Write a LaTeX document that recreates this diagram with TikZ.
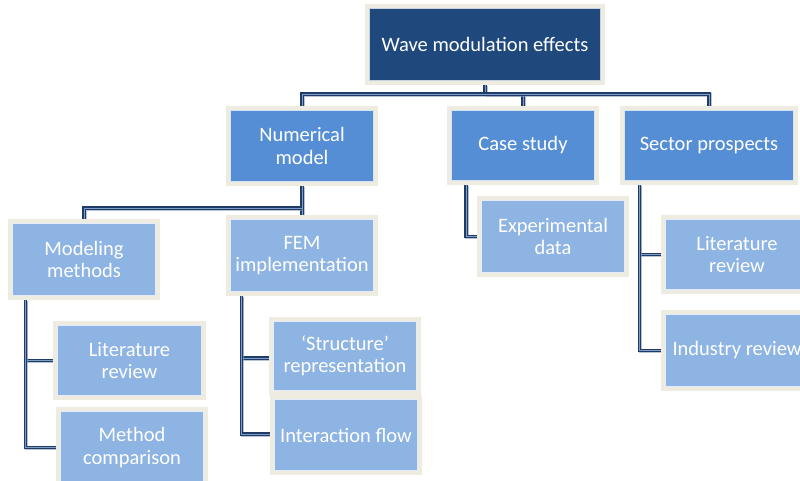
\documentclass[tikz,border=0pt]{standalone}
\usepackage{fontspec}
\setmainfont{Carlito}
\usetikzlibrary{backgrounds}
\definecolor{rootblue}{HTML}{1F497D}
\definecolor{midblue}{HTML}{558ED5}
\definecolor{lightblue}{HTML}{8EB4E3}
\definecolor{cream}{HTML}{EEECE1}
\definecolor{navy}{HTML}{1F3B68}
\definecolor{navylight}{HTML}{7F9CC4}
\definecolor{shade}{HTML}{8A9BB5}
\tikzset{
  box/.style={rectangle, fill=#1, draw=cream, line width=3.2pt,
    minimum width=148pt, minimum height=76pt, inner sep=2pt,
    text=white, align=center,
    font=\fontsize{20.5}{22.5}\selectfont,
    path picture={\draw[white!75!#1, line width=0.7pt]
      ([shift={(2.7pt,2.7pt)}]path picture bounding box.south west) rectangle
      ([shift={(-2.7pt,-2.7pt)}]path picture bounding box.north east);}},
  link/.style={draw=navy, double=navylight, double distance=0.7pt, line width=1.4pt,
    line join=miter,
    preaction={draw=shade, opacity=0.6, line width=3.5pt,
      transform canvas={shift={(1pt,-1pt)}}}}
}
\begin{document}
\begin{tikzpicture}[x=1pt, y=-1pt]
\useasboundingbox (0,0) rectangle (800,481);
\clip (0,0) rectangle (800,481);
% boxes
\node[box=rootblue, minimum width=236pt, minimum height=77pt] (root) at (485,44.5) {Wave modulation effects};
\node[box=midblue] (num) at (302,146) {Numerical\\model};
\node[box=midblue, minimum height=75pt] (case) at (523,145.5) {Case study};
\node[box=midblue, minimum width=174pt, minimum height=75pt] (sector) at (709,145.5) {Sector prospects};
\node[box=lightblue, minimum height=77pt] (model) at (84,259.5) {Modeling\\methods};
\node[box=lightblue, minimum height=77pt] (fem) at (302,255.5) {FEM\\implementation};
\node[box=lightblue, minimum height=77pt] (exp) at (553,236.5) {Experimental\\data};
\node[box=lightblue, minimum height=75pt] (litr) at (737,254.5) {Literature\\review};
\node[box=lightblue, minimum height=77pt] (ind) at (737,350.5) {Industry review};
\node[box=lightblue, minimum width=149pt, minimum height=75pt] (litl) at (129.5,360.5) {Literature\\review};
\node[box=lightblue, minimum height=77pt] (comp) at (132,447.5) {Method\\comparison};
\node[box=lightblue, minimum height=74pt] (struct) at (345,356) {‘Structure’\\representation};
\node[box=lightblue] (inter) at (346,435) {Interaction flow};
% connectors
\coordinate (bus) at (485,94);
\coordinate (nbus) at (302,208);
\begin{scope}[on background layer]
\draw[link] (root.south) -- (bus);
\draw[link] (bus) -| (num.north);
\draw[link] (bus) -| (case.north);
\draw[link] (bus) -| (sector.north);
\draw[link] (num.south) -- (fem.north);
\draw[link] (nbus) -| (model.north);
\draw[link] ([xshift=-57pt]case.south) |- (exp.west);
\draw[link] ([xshift=19pt]sector.south west) |- (litr.west);
\draw[link] ([xshift=19pt]sector.south west) |- (ind.west);
\draw[link] ([xshift=17pt]model.south west) |- (litl.west);
\draw[link] ([xshift=17pt]model.south west) |- (comp.west);
\draw[link] ([xshift=15pt]fem.south west) |- ([yshift=-2pt]struct.west);
\draw[link] ([xshift=15pt]fem.south west) |- ([yshift=1pt]inter.west);
\end{scope}
\end{tikzpicture}
\end{document}
